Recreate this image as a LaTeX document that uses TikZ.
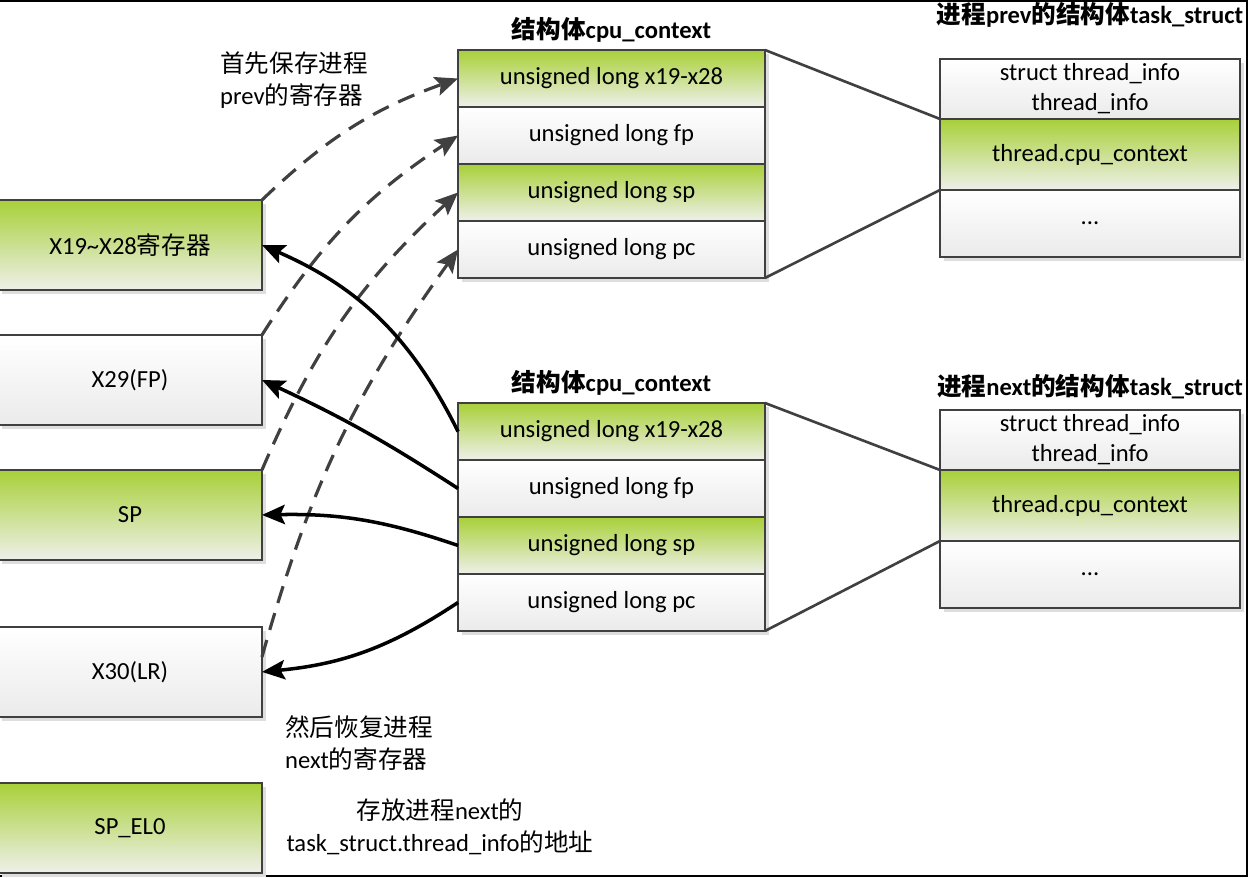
\documentclass[tikz,border=0pt]{standalone}
\usepackage{fontspec}
\setmainfont{Carlito}
\newfontfamily\cjk{Noto Sans CJK SC}
\usetikzlibrary{positioning,arrows.meta,shadows}

\newcommand{\zh}[1]{{\cjk #1}}
\definecolor{cellgreen}{RGB}{168,208,56}
\definecolor{cellpale}{RGB}{238,240,234}
\definecolor{edgegrey}{RGB}{64,64,64}

\tikzset{
  cell/.style={draw=edgegrey, line width=1.1pt, outer sep=0pt, inner sep=2pt,
    align=center, font=\fontsize{14}{17}\selectfont,
    drop shadow={shadow xshift=2.3pt, shadow yshift=-2.3pt, fill=black!13, opacity=1}},
  greencell/.style={cell, top color=cellgreen, bottom color=cellpale},
  greycell/.style={cell, top color=white, bottom color=black!8},
  reg/.style={minimum width=5.28cm, minimum height=1.8cm},
  row/.style={minimum width=6.14cm, minimum height=1.14cm},
  title/.style={font=\fontsize{14}{17}\selectfont\bfseries},
  note/.style={font=\fontsize{14}{18.5}\selectfont},
  save/.style={draw=edgegrey, line width=1.8pt, dash pattern=on 10pt off 6pt,
    -{Stealth[length=13pt, width=11pt, inset=2.5pt]}},
  restore/.style={draw=black, line width=2pt,
    -{Stealth[length=13pt, width=11pt, inset=2.5pt]}},
  link/.style={draw=edgegrey, line width=1.5pt},
}

\begin{document}
\begin{tikzpicture}[x=0.02cm, y=-0.02cm]
  \useasboundingbox (0,0) rectangle (1250,878);
  \draw [line width=1.2pt] (0,1) -- (1247,1) -- (1247,876) -- (0,876);

  % registers on the left
  \node [reg, greencell] (x19) at (130,245) {X19\textasciitilde X28\zh{寄存器}};
  \node [reg, greycell, below=0.9cm of x19] (x29) {X29(FP)};
  \node [reg, greencell, below=0.9cm of x29] (sp) {SP};
  \node [reg, greycell, below=1.34cm of sp] (x30) {X30(LR)};
  \node [reg, greencell, below=1.32cm of x30] (spel) {SP\_EL0};

  % cpu_context of prev
  \node [row, greencell] (t1) at (611.5,78.5) {unsigned long x19-x28};
  \node [row, greycell, below=0pt of t1] (t2) {unsigned long fp};
  \node [row, greencell, below=0pt of t2] (t3) {unsigned long sp};
  \node [row, greycell, below=0pt of t3] (t4) {unsigned long pc};
  \node [title, above=1pt of t1] (ttitle) {\zh{结构体}cpu\_context};

  % cpu_context of next
  \node [row, greencell] (b1) at (611.5,431.5) {unsigned long x19-x28};
  \node [row, greycell, below=0pt of b1] (b2) {unsigned long fp};
  \node [row, greencell, below=0pt of b2] (b3) {unsigned long sp};
  \node [row, greycell, below=0pt of b3] (b4) {unsigned long pc};
  \node [title, above=1pt of b1] (btitle) {\zh{结构体}cpu\_context};

  % task_struct of prev
  \node [greycell, minimum width=6cm, minimum height=1.2cm] (r1) at (1090,89)
    {struct thread\_info\\thread\_info};
  \node [greencell, minimum width=6cm, minimum height=1.42cm, below=0pt of r1] (r2) {thread.cpu\_context};
  \node [greycell, minimum width=6cm, minimum height=1.34cm, below=0pt of r2] (r3) {...};
  \node [title, above=0.5cm of r1] (rtitle) {\zh{进程}prev\zh{的结构体}task\_struct};

  % task_struct of next
  \node [greycell, minimum width=6cm, minimum height=1.2cm] (q1) at (1090,440)
    {struct thread\_info\\thread\_info};
  \node [greencell, minimum width=6cm, minimum height=1.42cm, below=0pt of q1] (q2) {thread.cpu\_context};
  \node [greycell, minimum width=6cm, minimum height=1.34cm, below=0pt of q2] (q3) {...};
  \node [title, above=0.1cm of q1] (qtitle) {\zh{进程}next\zh{的结构体}task\_struct};

  \draw [link] (t1.north east) -- (r2.north west);
  \draw [link] (t4.south east) -- (r2.south west);
  \draw [link] (b1.north east) -- (q2.north west);
  \draw [link] (b4.south east) -- (q2.south west);

  % save prev, restore next
  \draw [save] (x19.north east) to [bend left=12] (t1.west);
  \draw [save] (x29.north east) to [bend left=12] (t2.west);
  \draw [save] (sp.north east) to [bend left=12] (t3.west);
  \draw [save] ([yshift=0.3cm]x30.east) to [bend left=10] (t4.west);
  \draw [restore] (b1.west) to [bend right=20] (x19.east);
  \draw [restore] (b2.west) to [bend right=4] (x29.east);
  \draw [restore] (b3.west) to [bend right=10] (sp.east);
  \draw [restore] (b4.west) to [bend left=14] (x30.east);

  \node [note, align=left, anchor=west] (savenote) at (214,80)
    {\zh{首先保存进程}\\prev\zh{的寄存器}};
  \node [note, align=left, anchor=west] (restnote) at (279,743)
    {\zh{然后恢复进程}\\next\zh{的寄存器}};
  \node [note, align=center] (elnote) at (440,827)
    {\zh{存放进程}next\zh{的}\\task\_struct.thread\_info\zh{的地址}};
\end{tikzpicture}
\end{document}
